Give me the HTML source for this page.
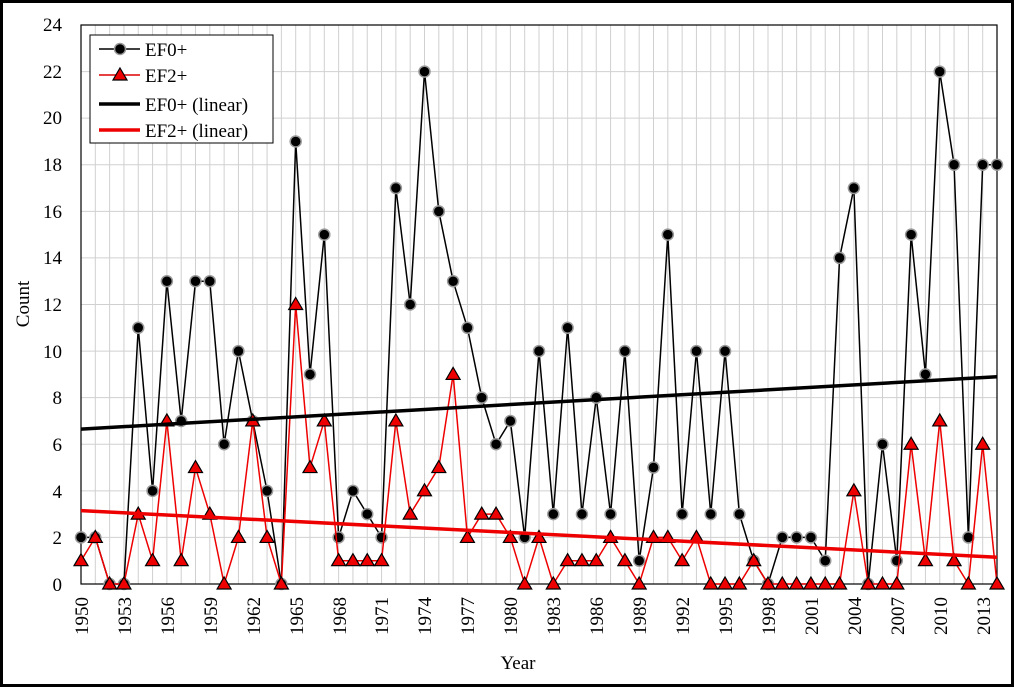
<!DOCTYPE html>
<html><head><meta charset="utf-8"><style>
html,body{margin:0;padding:0;background:#fff}
svg{display:block;font-family:"Liberation Serif",serif}
</style></head><body>
<svg id="s" width="1014" height="687" viewBox="0 0 1014 687" xmlns="http://www.w3.org/2000/svg">
<rect x="1.5" y="1.5" width="1011" height="684" fill="#fff" stroke="#000" stroke-width="3"/>
<g id="grid"></g>
<rect x="81" y="25" width="916" height="559" fill="none" stroke="#000" stroke-width="1.2"/>
<g font-size="19" text-anchor="end" fill="#000">
<text x="62" y="591">0</text><text x="62" y="544">2</text><text x="62" y="498">4</text><text x="62" y="451">6</text><text x="62" y="404">8</text><text x="62" y="358">10</text><text x="62" y="311">12</text><text x="62" y="264">14</text><text x="62" y="218">16</text><text x="62" y="171">18</text><text x="62" y="124">20</text><text x="62" y="78">22</text><text x="62" y="31">24</text>
</g>
<g font-size="19" text-anchor="end">
<text transform="translate(88,597) rotate(-90)">1950</text>
<text transform="translate(131,597) rotate(-90)">1953</text>
<text transform="translate(174,597) rotate(-90)">1956</text>
<text transform="translate(217,597) rotate(-90)">1959</text>
<text transform="translate(260,597) rotate(-90)">1962</text>
<text transform="translate(303,597) rotate(-90)">1965</text>
<text transform="translate(346,597) rotate(-90)">1968</text>
<text transform="translate(388,597) rotate(-90)">1971</text>
<text transform="translate(431,597) rotate(-90)">1974</text>
<text transform="translate(474,597) rotate(-90)">1977</text>
<text transform="translate(517,597) rotate(-90)">1980</text>
<text transform="translate(560,597) rotate(-90)">1983</text>
<text transform="translate(603,597) rotate(-90)">1986</text>
<text transform="translate(646,597) rotate(-90)">1989</text>
<text transform="translate(689,597) rotate(-90)">1992</text>
<text transform="translate(732,597) rotate(-90)">1995</text>
<text transform="translate(775,597) rotate(-90)">1998</text>
<text transform="translate(818,597) rotate(-90)">2001</text>
<text transform="translate(861,597) rotate(-90)">2004</text>
<text transform="translate(904,597) rotate(-90)">2007</text>
<text transform="translate(947,597) rotate(-90)">2010</text>
<text transform="translate(990,597) rotate(-90)">2013</text>
</g>
<text x="518" y="669" font-size="19" text-anchor="middle">Year</text>
<text transform="translate(29,304) rotate(-90)" font-size="19" text-anchor="middle">Count</text>
<g id="data"></g>
<rect x="90" y="35" width="183" height="108" fill="#fff" stroke="#000" stroke-width="1"/>
<line x1="99" y1="49" x2="140" y2="49" stroke="#000" stroke-width="1.5"/>
<circle cx="120" cy="49" r="5.5" fill="#000" stroke="#999" stroke-width="1.5"/>
<line x1="99" y1="75" x2="140" y2="75" stroke="#d00" stroke-width="1.5"/>
<polygon points="120,68 127,80 113,80" fill="#e00" stroke="#000" stroke-width="1.2"/>
<line x1="99" y1="104" x2="140" y2="104" stroke="#000" stroke-width="3.5"/>
<line x1="99" y1="130" x2="140" y2="130" stroke="#e00" stroke-width="3.5"/>
<g font-size="19"><text x="145" y="56">EF0+</text><text x="145" y="82">EF2+</text><text x="145" y="111">EF0+ (linear)</text><text x="145" y="137">EF2+ (linear)</text></g>
</svg>
<script>
var NS="http://www.w3.org/2000/svg";
function X(y){return 81+(y-1950)*916/64;}
function Y(v){return 584-v*559/24;}
function el(t,a,p){var e=document.createElementNS(NS,t);for(var k in a)e.setAttribute(k,a[k]);p.appendChild(e);return e;}
var g=document.getElementById("grid"),d=document.getElementById("data");
for(var yr=1951;yr<2014;yr++)el("line",{x1:X(yr),x2:X(yr),y1:25,y2:584,stroke:"#d0d0d0","stroke-width":1},g);
for(var v=2;v<24;v+=2)el("line",{x1:81,x2:997,y1:Y(v),y2:Y(v),stroke:"#d0d0d0","stroke-width":1},g);
var a=[2,2,0,0,11,4,13,7,13,13,6,10,7,4,0,19,9,15,2,4,3,2,17,12,22,16,13,11,8,6,7,2,10,3,11,3,8,3,10,1,5,15,3,10,3,10,3,1,0,2,2,2,1,14,17,0,6,1,15,9,22,18,2,18,18];
var b=[1,2,0,0,3,1,7,1,5,3,0,2,7,2,0,12,5,7,1,1,1,1,7,3,4,5,9,2,3,3,2,0,2,0,1,1,1,2,1,0,2,2,1,2,0,0,0,1,0,0,0,0,0,0,4,0,0,0,6,1,7,1,0,6,0];
function pts(arr){return arr.map(function(v,i){return X(1950+i)+","+Y(v)}).join(" ");}
el("polyline",{points:pts(a),fill:"none",stroke:"#000","stroke-width":1.5},d);
a.forEach(function(v,i){el("circle",{cx:X(1950+i),cy:Y(v),r:5.5,fill:"#000",stroke:"#999","stroke-width":1.5},d);});
el("polyline",{points:pts(b),fill:"none",stroke:"#e00","stroke-width":1.5},d);
b.forEach(function(v,i){var x=X(1950+i),y=Y(v);el("polygon",{points:x+","+(y-7)+" "+(x+7)+","+(y+5)+" "+(x-7)+","+(y+5),fill:"#e00",stroke:"#000","stroke-width":1.2},d);});
el("line",{x1:81,y1:Y(6.65),x2:997,y2:Y(8.9),stroke:"#000","stroke-width":3.5},d);
el("line",{x1:81,y1:Y(3.15),x2:997,y2:Y(1.15),stroke:"#e00","stroke-width":3.5},d);
</script>
</body></html>
